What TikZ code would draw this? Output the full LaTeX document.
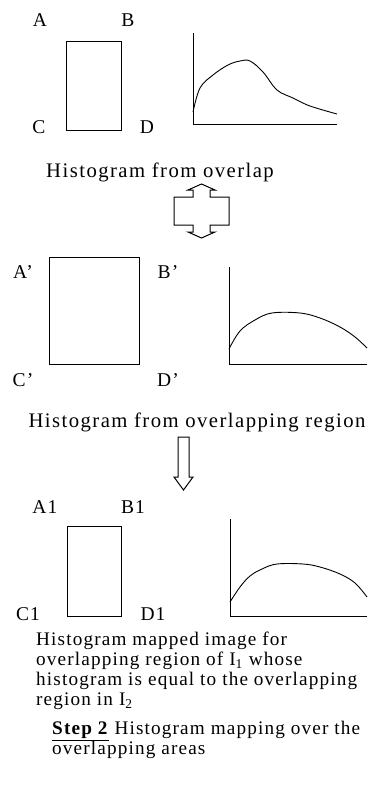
\documentclass[tikz,border=0pt]{standalone}
\usepackage{fontspec}
\setmainfont{Liberation Serif}
\usetikzlibrary{positioning}

\begin{document}
\begin{tikzpicture}[x=1pt,y=-1pt,
    lbl/.style={inner sep=0pt,font=\fontsize{19.5}{19.5}\selectfont\addfontfeature{LetterSpace=6}},
    region/.style={draw,line width=1pt,inner sep=0pt,anchor=north west},
    axis/.style={line width=1pt},
    curve/.style={line width=0.9pt},
    caption/.style={inner sep=0pt,font=\fontsize{20.7}{20.7}\selectfont\addfontfeature{LetterSpace=7}},
    para/.style={inner sep=0pt,anchor=north west,align=left,font=\fontsize{19.2}{19.8}\selectfont\addfontfeature{LetterSpace=6}},
    blockarrow/.style={draw,line width=1pt,line join=miter}]
    \useasboundingbox (0,0) rectangle (367,806);

    % panel 1: original overlap
    \node[region,minimum width=55pt,minimum height=89pt] (r1) at (66,41) {};
    \node[lbl] (a1) at (40,20) {A};
    \node[lbl] (b1) at (128,20) {B};
    \node[lbl] (c1) at (39,127) {C};
    \node[lbl] (d1) at (147,127) {D};
    \coordinate (o1) at (193,124);
    \draw[axis] (193,33) -- (o1) -- (337,124);
    \draw[curve] plot[smooth,tension=0.6] coordinates {(193,112) (200,88) (213,75) (228,65) (240,61) (250,61) (263,72) (277,90) (293,98) (310,106) (337,114)};
    \node[caption] (h1) at (160,172) {Histogram from overlap};

    % double arrow
    \draw[blockarrow] (174,197) -- (193,197) -- (193,190) -- (188,190) -- (201.5,184) -- (215,190) -- (210,190) -- (210,197)
        -- (229,197) -- (229,225) -- (210,225) -- (210,232) -- (215,232) -- (201.5,238) -- (188,232) -- (193,232) -- (193,225)
        -- (174,225) -- cycle;

    % panel 2: overlapping region
    \node[region,minimum width=90pt,minimum height=107pt] (r2) at (49,257) {};
    \node[lbl] (a2) at (23,272) {A’};
    \node[lbl] (b2) at (168,272) {B’};
    \node[lbl] (c2) at (23,380) {C’};
    \node[lbl] (d2) at (168,380) {D’};
    \coordinate (o2) at (229,364);
    \draw[axis] (229,267) -- (o2) -- (367,364);
    \draw[curve] plot[smooth,tension=0.6] coordinates {(229,349) (240,331) (255,320) (272,313) (300,313) (320,318) (340,327) (355,337) (367,348)};
    \node[caption] (h2) at (197,422) {Histogram from overlapping region};

    % down arrow
    \draw[blockarrow] (178,437) -- (189,437) -- (189,477) -- (193,477) -- (183.5,490) -- (174,477) -- (178,477) -- cycle;

    % panel 3: mapped image
    \node[region,minimum width=54pt,minimum height=90pt] (r3) at (67,526) {};
    \node[lbl] (a3) at (45,507) {A1};
    \node[lbl] (b3) at (133,507) {B1};
    \node[lbl] (c3) at (28,614) {C1};
    \node[lbl] (d3) at (153,614) {D1};
    \coordinate (o3) at (230,616);
    \draw[axis] (230,519) -- (o3) -- (367,616);
    \draw[curve] plot[smooth,tension=0.6] coordinates {(230,602) (240,587) (250,576) (262,569) (277,564) (303,564) (320,567) (340,574) (355,583) (367,597)};

    \node[para] (txt) at (36,632) {Histogram mapped image for\\
        overlapping region of I\textsubscript{1} whose\\
        histogram is equal to the overlapping\\
        region in I\textsubscript{2}};
    \node[para] (step) at (52,721) {\underline{\textbf{Step 2}} Histogram mapping over the\\
        overlapping areas};
\end{tikzpicture}
\end{document}
